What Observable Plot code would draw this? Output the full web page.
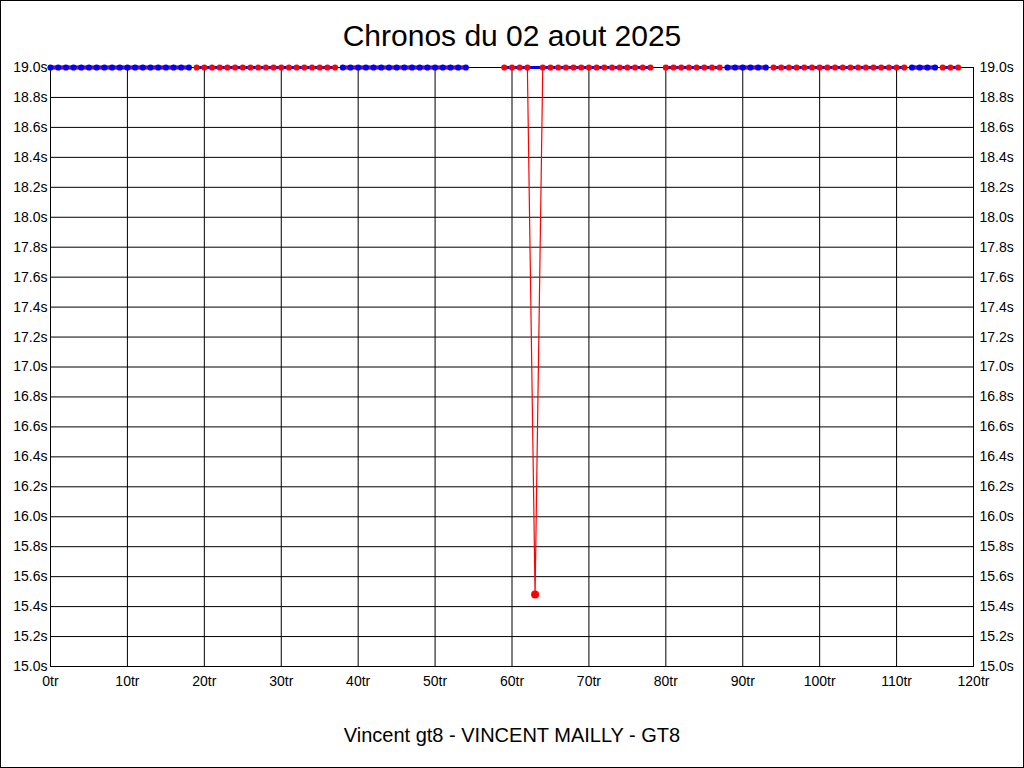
<!DOCTYPE html>
<html>
<head>
<meta charset="utf-8">
<script src="https://cdn.jsdelivr.net/npm/d3@7"></script>
<script src="https://cdn.jsdelivr.net/npm/@observablehq/plot@0.6"></script>
<style>
  html, body { margin: 0; padding: 0; background: white; }
  #page { position: relative; width: 1024px; height: 768px; overflow: hidden; background: white;
          font-family: "Liberation Sans", Arial, sans-serif; color: black; }
  #title { position: absolute; left: 0; top: 0; width: 1024px; height: 50px; line-height: 68px;
           text-align: center; font-size: 30px; }
  #title span { display: inline-block; line-height: 34px; vertical-align: middle; }
  #chart { position: absolute; left: 0; top: 50px; width: 1024px; height: 650px; }
  #footer { position: absolute; left: 0; top: 700px; width: 1024px; height: 68px;
            text-align: center; font-size: 20px; }
  #footer span { display: block; margin-top: 24px; line-height: 22px; }
  #border { position: absolute; left: 0; top: 0; width: 1024px; height: 768px; box-sizing: border-box;
            border: 1px solid black; pointer-events: none; }
</style>
</head>
<body>
<div id="page">
  <div id="title"><span>Chronos du 02 aout 2025</span></div>
  <div id="chart"></div>
  <div id="footer"><span>Vincent gt8 - VINCENT MAILLY - GT8</span></div>
  <div id="border"></div>
</div>
<script>
// ---- data ----
// runs of consecutive laps drawn at the top of the scale (times above 19.0s)
const segFirst    = [0, 19, 38, 59, 80, 88, 94, 112, 116];
const segLast     = [18, 37, 54, 78, 87, 93, 111, 115, 118];
const segDotColor = ["blue", "red", "blue", "red", "red", "blue", "red", "blue", "red"];
const ceilingTime = 19.0;

// the only lap with a time inside the scale, with its neighbours
const spikeLaps  = [62, 63, 64];
const spikeTimes = [19.0, 15.48, 19.0];
const bestLap = 63;
const bestTime = 15.48;

// tick labels
const xTicks = [0, 10, 20, 30, 40, 50, 60, 70, 80, 90, 100, 110, 120];
const yTicks = [15.0, 15.2, 15.4, 15.6, 15.8, 16.0, 16.2, 16.4, 16.6, 16.8, 17.0,
                17.2, 17.4, 17.6, 17.8, 18.0, 18.2, 18.4, 18.6, 18.8, 19.0];

// ---- build tables ----
const topRows = [];
segFirst.forEach((first, i) => {
  for (let lap = first; lap <= segLast[i]; lap++) {
    topRows.push({lap, time: ceilingTime, seg: i, dot: segDotColor[i]});
  }
});
const topDots = topRows.filter(d => d.lap !== bestLap);
const blueSegRows = topRows.filter(d => d.dot === "blue");
const redSegRows = topRows.filter(d => d.dot === "red");
const spikeRows = spikeLaps.map((lap, i) => ({lap, time: spikeTimes[i]}));

const fmtY = d => d.toFixed(1) + "s";
const fmtX = d => d + "tr";

const chart = Plot.plot({
  width: 1024,
  height: 650,
  marginTop: 17,
  marginBottom: 34,
  marginLeft: 50,
  marginRight: 51,
  style: {fontFamily: "'Liberation Sans', Arial, sans-serif", fontSize: "14px", color: "black", background: "white"},
  x: {domain: [0, 120], label: null},
  y: {domain: [15, 19], label: null},
  marks: [
    Plot.gridX(xTicks, {stroke: "black", strokeOpacity: 1}),
    Plot.gridY(yTicks, {stroke: "black", strokeOpacity: 1}),
    Plot.frame({stroke: "black"}),
    // segment lines
    Plot.line(blueSegRows, {x: "lap", y: "time", z: "seg", stroke: "blue", strokeWidth: 4}),
    Plot.line(blueSegRows, {x: "lap", y: "time", z: "seg", stroke: "red", strokeWidth: 2}),
    Plot.line(spikeRows, {x: "lap", y: "time", stroke: "red", strokeWidth: 1.2, clip: true}),
    Plot.line(redSegRows, {x: "lap", y: "time", z: "seg", stroke: "blue", strokeWidth: 3}),
    // dots
    Plot.dot(topDots, {x: "lap", y: "time", r: 3.1, fill: d => d.dot, stroke: "none"}),
    Plot.dot([{lap: bestLap, time: bestTime}], {x: "lap", y: "time", r: 4, fill: "red"}),
    // axes
    Plot.axisY(yTicks, {anchor: "left", label: null, tickSize: 0, tickPadding: 3, tickFormat: fmtY, fontSize: 14}),
    Plot.axisY(yTicks, {anchor: "right", label: null, tickSize: 0, tickPadding: 6, tickFormat: fmtY, fontSize: 14}),
    Plot.axisX(xTicks, {anchor: "bottom", label: null, tickSize: 0, tickPadding: 10, tickFormat: fmtX, fontSize: 14})
  ]
});
document.getElementById("chart").appendChild(chart);
</script>
</body>
</html>
